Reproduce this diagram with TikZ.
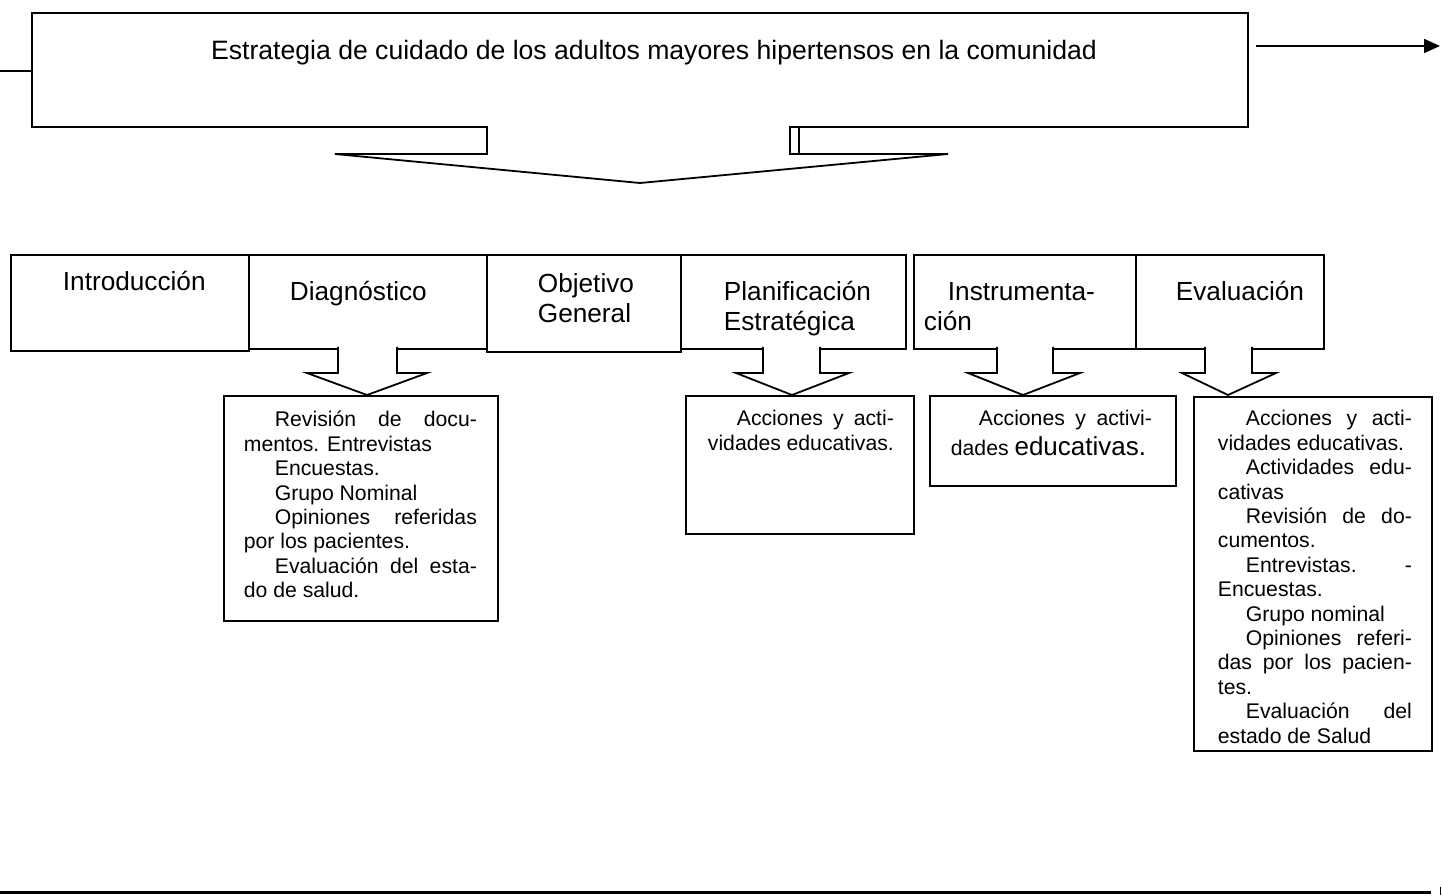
\documentclass[tikz,border=0pt]{standalone}
\usepackage{fontspec}
\setmainfont{Liberation Sans}
\usetikzlibrary{arrows.meta}
\newcommand\barrowshape[5]{%
  \filldraw[fill=white] (#1,346.9) -- (#1,373) -- (#3,373) -- (#5,395) -- (#4,373) -- (#2,373) -- (#2,346.9);}
\newcommand\ind[1]{\hspace*{#1pt}}
\newcommand\fl{\rule{0pt}{20pt}}
\begin{document}
\begin{tikzpicture}[x=1pt,y=-1pt,line width=1.8pt,line join=miter,
  box/.style={draw,inner sep=0pt,anchor=north west},
  title/.style={anchor=base,inner sep=0pt,font=\fontsize{26.6pt}{30pt}\selectfont},
  lbl/.style={anchor=base west,inner sep=0pt,font=\fontsize{26.2pt}{29.5pt}\selectfont},
  lbltwo/.style={anchor=north west,inner sep=0pt,align=left,font=\fontsize{26.2pt}{29.5pt}\selectfont},
  body/.style={anchor=north west,inner sep=0pt,align=justify,font=\fontsize{21.2pt}{24.4pt}\selectfont}]
\useasboundingbox (0,0) rectangle (1443,895);

% top box
\node[box,minimum width=1216pt,minimum height=114pt] (top) at (31,12) {};
\node[title] (ttl) at (654,59) {Estrategia de cuidado de los adultos mayores hipertensos en la comunidad};
\coordinate (lstart) at (0,71);
\draw (lstart) -- (lstart -| top.west);
\coordinate (aend) at (1440,46);
\draw[-{Triangle[length=16pt,width=14pt]}] ([xshift=7pt]top.east |- aend) -- (aend);

% big block arrow
\fill[white] (488,124.6) rectangle (789,127.5);
\draw (487,126) -- (487,154) -- (335,154) -- (640,183) -- (948,154) -- (799,154) -- (799,126);
\draw (790,126) -- (790,154) -- (799,154);

% row boxes
\node[box,minimum width=238pt,minimum height=96pt] (intro) at (10,254) {};
\node[box,minimum width=238pt,minimum height=94pt] (diag) at (248,254) {};
\node[box,minimum width=194pt,minimum height=97pt] (obj) at (486,254) {};
\node[box,minimum width=225pt,minimum height=94pt] (plan) at (680,254) {};
\node[box,minimum width=222pt,minimum height=94pt] (instr) at (913,254) {};
\node[box,minimum width=188pt,minimum height=94pt] (eval) at (1135,254) {};

% small block arrows
\barrowshape{338}{397}{307}{427}{367}
\barrowshape{763}{820}{736}{849}{792}
\barrowshape{997}{1053}{968}{1080}{1023}
\barrowshape{1205}{1252}{1182}{1276}{1228}

% lower boxes
\node[box,minimum width=274pt,minimum height=225pt] (dbox) at (223,395) {};
\node[box,minimum width=228pt,minimum height=138pt] (pbox) at (685,395) {};
\node[box,minimum width=246pt,minimum height=90pt] (ibox) at (929,395) {};
\node[box,minimum width=238pt,minimum height=354pt] (ebox) at (1193,396) {};

% row labels
\node[lbl] (tintro) at (62,290) {Introducción};
\node[lbl] (tdiag) at (289,300) {Diagnóstico};
\node[lbltwo] (tobj) at (537,271) {\rule{0pt}{21pt}Objetivo\\General};
\node[lbltwo] (tplan) at (723,279) {\rule{0pt}{21pt}Planificación\\Estratégica};
\node[lbltwo] (tinstr) at (923,279) {\rule{0pt}{21pt}\ind{24}Instrumenta-\\ción};
\node[lbl] (teval) at (1175,300) {Evaluación};

% body texts
\node[body,text width=233pt] (dtxt) at (243,406) {\fl\ind{31}Revisión de docu-\linebreak mentos. Entrevistas\par
\ind{31}Encuestas.\par
\ind{31}Grupo Nominal\par
\ind{31}Opiniones referidas\linebreak por los pacientes.\par
\ind{31}Evaluación del esta-\linebreak do de salud.\par};

\node[body,text width=186pt] (ptxt) at (707,405) {\fl\ind{29}Acciones y acti-\linebreak vidades educativas.\par};

\node[body,text width=201pt] (itxt) at (950,405) {\fl\ind{28}Acciones y activi-\linebreak dades {\fontsize{26pt}{30pt}\selectfont educativas.\par}};

\node[body,text width=194pt] (etxt) at (1217,405) {\fl\ind{28}Acciones y acti-\linebreak vidades educativas.\par
\ind{28}Actividades edu-\linebreak cativas\par
\ind{28}Revisión de do-\linebreak cumentos.\par
\ind{28}Entrevistas. -\linebreak Encuestas.\par
\ind{28}Grupo nominal\par
\ind{28}Opiniones referi-\linebreak das por los pacien-\linebreak tes.\par
\ind{28}Evaluación del\linebreak estado de Salud\par};

% bottom line
\coordinate (b1) at (0,892);
\coordinate (b2) at (1431,892);
\draw[line width=3pt] (b1) -- (b2);
\coordinate (m1) at (1440,887);
\coordinate (m2) at (1440,895);
\draw[line width=1pt] (m1) -- (m2);
\end{tikzpicture}
\end{document}
